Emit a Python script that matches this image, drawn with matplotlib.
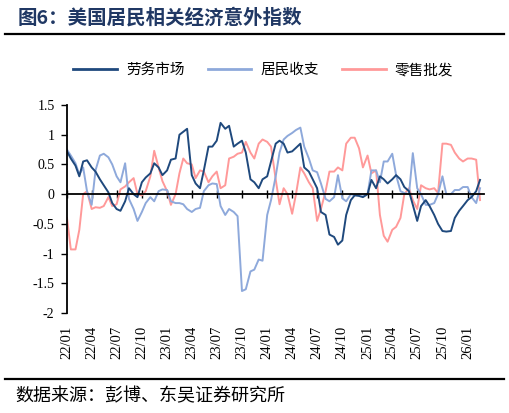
import numpy as np
import pandas as pd
import matplotlib
matplotlib.use("Agg")
import matplotlib.pyplot as plt
from matplotlib.lines import Line2D
from matplotlib.ticker import FuncFormatter

plt.rcParams['font.family'] = ['Liberation Serif', 'Noto Sans CJK SC']
plt.rcParams['axes.unicode_minus'] = False

# semi-monthly samples, 2022-01-01 .. 2026-02-15
dates = pd.date_range('2022-01-01', '2026-02-15', freq='SMS')

labour = [0.72, 0.6, 0.48, 0.3, 0.55, 0.57, 0.45, 0.38, 0.25, 0.15,
          0.03, -0.15, -0.25, -0.28, -0.12, 0.1, 0.0, -0.05, 0.2, 0.28,
          0.35, 0.52, 0.45, 0.32, 0.4, 0.58, 0.6, 1.0, 1.05, 1.1,
          0.32, 0.18, 0.1, 0.4, 0.8, 0.8, 0.9, 1.2, 1.1, 1.15,
          0.8, 0.85, 0.9, 0.7, 0.25, 0.2, 0.1, 0.25, 0.3, 0.55,
          0.85, 0.9, 0.85, 0.7, 0.72, 0.78, 0.85, 0.45, 0.38, 0.25,
          0.1, -0.3, -0.35, -0.68, -0.72, -0.85, -0.78, -0.35, -0.1, -0.02,
          -0.03, -0.05, 0.0, 0.24, 0.1, 0.3, 0.25, 0.18, 0.25, 0.32,
          0.25, 0.12, 0.05, -0.18, -0.45, -0.2, -0.1, -0.2, -0.35, -0.5,
          -0.62, -0.63, -0.62, -0.4, -0.28, -0.2, -0.1, -0.05, 0.05, 0.24]

income = [0.75, 0.65, 0.52, 0.33, 0.45, 0.05, -0.18, 0.4, 0.65, 0.68,
          0.62, 0.5, 0.3, 0.2, 0.52, -0.08, -0.25, -0.45, -0.3, -0.15,
          -0.05, -0.12, 0.05, 0.08, 0.07, -0.12, -0.15, -0.15, -0.17, -0.25,
          -0.3, -0.25, -0.23, 0.05, 0.15, 0.18, 0.17, -0.2, -0.35, -0.25,
          -0.3, -0.37, -1.63, -1.6, -1.3, -1.27, -1.1, -1.12, -0.35, -0.1,
          0.3, 0.7, 0.92, 0.98, 1.03, 1.08, 1.12, 0.8, 0.6, 0.4,
          0.37, 0.18, -0.08, -0.12, -0.05, 0.32, -0.07, -0.12, 0.0, -0.02,
          0.0, -0.01, 0.0, 0.4, 0.4, 0.2, 0.55, 0.55, 0.68, 0.32,
          0.05, 0.02, 0.0, 0.69, 0.1, 0.0, -0.18, -0.18, -0.15, 0.0,
          0.3, 0.0, 0.0, 0.07, 0.07, 0.12, 0.12, -0.05, -0.15, 0.1]

retail = [-0.4, -0.93, -0.93, -0.6, 0.0, 0.05, -0.25, -0.22, -0.23, -0.2,
          -0.05, -0.2, -0.17, 0.08, 0.13, 0.2, 0.27, 0.0, -0.02, 0.05,
          0.3, 0.73, 0.45, 0.22, 0.05, -0.18, 0.0, 0.35, 0.6, 0.52,
          0.5, 0.27, 0.4, 0.38, 0.2, 0.3, 0.38, 0.1, 0.15, 0.6,
          0.63, 0.68, 0.7, 0.88, 0.7, 0.6, 0.85, 0.92, 0.88, 0.8,
          0.25, -0.17, 0.1, 0.0, -0.33, 0.0, 0.45, 0.35, 0.2, 0.1,
          -0.45, -0.25, 0.05, 0.38, 0.38, 0.45, 0.4, 0.85, 0.95, 0.95,
          0.77, 0.45, 0.65, 0.35, 0.4, -0.35, -0.7, -0.8, -0.6, -0.55,
          -0.4, 0.0, 0.1, -0.1, -0.25, 0.15, 0.1, 0.08, 0.1, 0.02,
          0.85, 0.85, 0.83, 0.7, 0.6, 0.55, 0.6, 0.6, 0.58, -0.1]

names = ['劳务市场', '居民收支', '零售批发']
colors = ['#1F497D', '#8EA9DB', '#FF9999']

tick_dates = pd.date_range('2022-01-01', '2026-01-01', freq='QS')
tick_labels = [d.strftime('%y/%m') for d in tick_dates]

fig = plt.figure(figsize=(5.09, 4.13), dpi=100)
ax = fig.add_axes([0.1316, 0.2421, 0.819, 0.5036])

cjk = 'Noto Sans CJK SC'

# draw pink and light blue first, dark blue on top
ax.plot(dates, retail, color=colors[2], lw=1.4)
ax.plot(dates, income, color=colors[1], lw=1.4)
ax.plot(dates, labour, color=colors[0], lw=1.4)

ax.set_ylim(-2, 1.5)
ax.set_yticks(np.arange(-2, 1.51, 0.5))
ax.yaxis.set_major_formatter(FuncFormatter(lambda v, p: '{:g}'.format(v)))
ax.set_xlim(pd.Timestamp('2022-01-01'), pd.Timestamp('2026-03-01'))

for s in ['top', 'right']:
    ax.spines[s].set_visible(False)
ax.spines['bottom'].set_position(('data', 0))
ax.spines['bottom'].set_linewidth(1.3)
ax.spines['left'].set_linewidth(1.3)

ax.set_xticks(tick_dates)
ax.tick_params(axis='x', direction='inout', length=6, width=1, labelbottom=False)
ax.tick_params(axis='y', direction='out', length=4, width=1, labelsize=10, pad=5)

for d, lab in zip(tick_dates, tick_labels):
    ax.text(d, -0.06, lab, transform=ax.get_xaxis_transform(), rotation=90,
            ha='center', va='top', fontsize=10.5)

handles = [Line2D([0], [0], color=c, lw=2) for c in colors]
fig.legend(handles, names, loc='center', bbox_to_anchor=(0.517, 0.83), ncol=3,
           frameon=False, prop={'family': cjk, 'size': 10.5},
           handlelength=3.0, columnspacing=1.6, handletextpad=0.6)

# title, rules, source
fig.text(0.035, 0.957, '图6：美国居民相关经济意外指数', family=cjk, fontsize=14,
         fontweight='bold', color='#203864', va='center', ha='left')
fig.add_artist(Line2D([0.01, 0.99], [0.918, 0.918], color='black', lw=1.6))
fig.add_artist(Line2D([0.01, 0.99], [0.082, 0.082], color='black', lw=1.6))
fig.text(0.03, 0.04, '数据来源：彭博、东吴证券研究所', family=cjk, fontsize=13,
         va='center', ha='left')

fig.savefig('out.png', dpi=100)
